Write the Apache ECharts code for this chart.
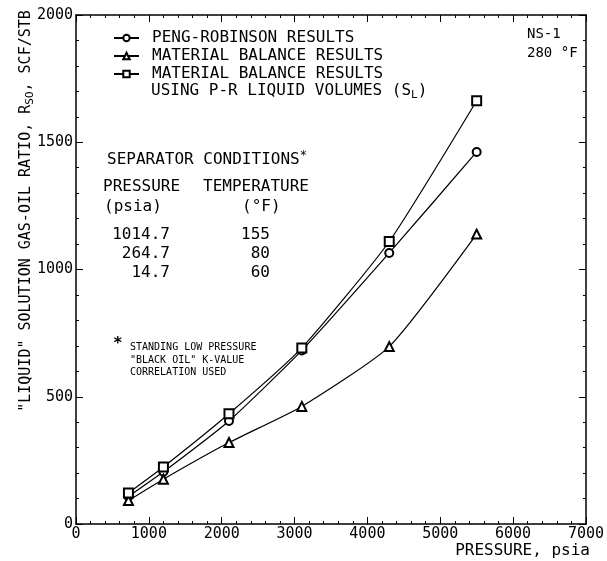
<!DOCTYPE html>
<html lang="en">
<head>
    <meta charset="UTF-8">
    <title>NS-1 solution gas-oil ratio</title>
    <script src="https://cdn.jsdelivr.net/npm/echarts@6/dist/echarts.min.js"></script>
    <style>
        html, body { margin: 0; padding: 0; background: #fff; }
    </style>
</head>
<body>

<div id="main" style="width: 607px;height:561px;"></div>
<script>
    // pressure steps, psia
    var pressure = [720, 1200, 2100, 3100, 4300, 5500];
    // Rso, scf/stb
    var pengRobinson = [108, 205, 405, 682, 1065, 1462];
    var matBalance = [92, 176, 320, 462, 697, 1139];
    var matBalancePR = [122, 224, 433, 692, 1110, 1663];

    var seriesNames = ['PENG-ROBINSON RESULTS', 'MATERIAL BALANCE RESULTS', 'MATERIAL BALANCE RESULTS '];

    var sepPressure = ['1014.7', '264.7', '14.7'];
    var sepTemp = ['155', '80', '60'];

    var mono = 'DejaVu Sans Mono';
    var myChart = echarts.init(document.getElementById('main'));

    function pairs(ys) {
        return pressure.map(function (p, i) {
            return [p, ys[i]];
        });
    }

    function axisBase(pos, minMax, interval, labels) {
        return {
            type: 'value',
            position: pos,
            min: minMax[0],
            max: minMax[1],
            interval: interval,
            axisLine: {show: true, onZero: false, lineStyle: {color: '#000', width: 1.5}},
            axisTick: {show: true, inside: true, length: 7, lineStyle: {color: '#000', width: 1}},
            minorTick: {show: true, splitNumber: 5, length: 3, lineStyle: {color: '#000', width: 1}},
            splitLine: {show: false},
            axisLabel: {
                show: labels,
                color: '#000',
                fontFamily: mono,
                fontSize: 15,
                margin: 3,
                formatter: function (v) { return String(v); }
            }
        };
    }

    var lineSeries = function (name, ys, symbol, size) {
        return {
            name: name,
            type: 'line',
            data: pairs(ys),
            symbol: symbol,
            symbolSize: size,
            smooth: 0.18,
            showSymbol: true,
            z: 3,
            itemStyle: {color: '#000', borderColor: '#000', borderWidth: 1},
            lineStyle: {color: '#000', width: 1.2}
        };
    };

    var tableRows = [];
    sepPressure.forEach(function (p, i) {
        tableRows.push({
            type: 'text', x: 170, y: 235 + i * 19,
            style: {text: p, font: '16px ' + mono, fill: '#000', align: 'right', verticalAlign: 'middle'}
        });
        tableRows.push({
            type: 'text', x: 270, y: 235 + i * 19,
            style: {text: sepTemp[i], font: '16px ' + mono, fill: '#000', align: 'right', verticalAlign: 'middle'}
        });
    });

    var txt = function (x, y, text, size, align, weight) {
        return {
            type: 'text', x: x, y: y,
            style: {
                text: text, font: (weight || 'normal') + ' ' + size + 'px ' + mono, fill: '#000',
                align: align || 'left', verticalAlign: 'middle'
            }
        };
    };

    myChart.setOption({
        animation: false,
        backgroundColor: '#fff',
        grid: {left: 76, right: 16, top: 15, bottom: 37, containLabel: false},
        xAxis: [
            axisBase('bottom', [0, 7000], 1000, true),
            axisBase('top', [0, 7000], 1000, false)
        ],
        yAxis: [
            axisBase('left', [0, 2000], 500, true),
            axisBase('right', [0, 2000], 500, false)
        ],
        legend: {
            orient: 'vertical',
            left: 108,
            top: 25,
            itemWidth: 25,
            itemHeight: 8,
            itemGap: 2,
            data: seriesNames,
            textStyle: {
                color: '#000',
                fontFamily: mono,
                fontSize: 16,
                padding: [0, 0, 0, 8]
            }
        },
        graphic: [
            {
                type: 'text', x: 151, y: 91,
                style: {
                    text: 'USING P-R LIQUID VOLUMES ({a|S}{b|L})',
                    font: '16px ' + mono, fill: '#000', verticalAlign: 'middle',
                    rich: {
                        a: {font: '16px ' + mono, fill: '#000'},
                        b: {font: '11px ' + mono, fill: '#000', padding: [8, 0, 0, 0]}
                    }
                }
            },
            txt(527, 34, 'NS-1', 14),
            txt(527, 53, '280 °F', 14),
            {
                type: 'text', x: 107, y: 160,
                style: {
                    text: 'SEPARATOR CONDITIONS{s|*}',
                    font: '16px ' + mono, fill: '#000', verticalAlign: 'middle',
                    rich: {s: {font: '12px ' + mono, fill: '#000', padding: [0, 0, 8, 0]}}
                }
            },
            txt(103, 187, 'PRESSURE', 16),
            txt(203, 187, 'TEMPERATURE', 16),
            txt(104, 207, '(psia)', 16),
            txt(242, 207, '(°F)', 16),
            txt(113, 344, '*', 16, 'left', 'bold'),
            txt(130, 347, 'STANDING LOW PRESSURE', 10),
            txt(130, 360, '"BLACK OIL" K-VALUE', 10),
            txt(130, 372, 'CORRELATION USED', 10),
            txt(590, 551, 'PRESSURE, psia', 16, 'right'),
            {
                type: 'text', x: 26, y: 211, rotation: Math.PI / 2,
                style: {
                    text: '"LIQUID" SOLUTION GAS-OIL RATIO, R{b|SO}, SCF/STB',
                    font: '15px ' + mono, fill: '#000', align: 'center', verticalAlign: 'middle',
                    rich: {
                        b: {font: '11px ' + mono, fill: '#000', padding: [8, 0, 0, 0]}
                    }
                }
            }
        ].concat(tableRows),
        series: [
            lineSeries(seriesNames[0], pengRobinson, 'emptyCircle', 8),
            lineSeries(seriesNames[1], matBalance, 'emptyTriangle', 9),
            lineSeries(seriesNames[2], matBalancePR, 'emptyRect', 9)
        ]
    });
</script>
</body>
</html>
